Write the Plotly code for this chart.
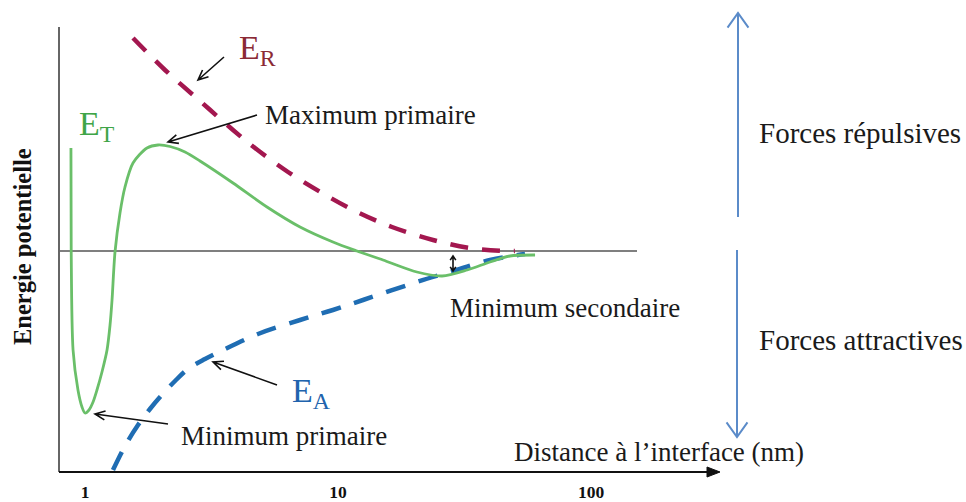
import math
import plotly.graph_objects as go

# ---------------- data ----------------
# Total energy E_T (solid green)
et_x = [0.880, 0.882, 0.897, 0.938, 0.973, 1.000, 1.037, 1.076, 1.115, 1.167,
        1.222, 1.256, 1.279, 1.314, 1.375, 1.439, 1.548, 1.758, 1.943, 2.168,
        2.485, 2.848, 3.846, 5.24, 7.08, 9.55, 11.89, 15.06, 20.5,
        25.8, 32.4, 39.9, 47.8, 60.1]
et_y = [10.3, 0.0, -9.9, -13.9, -15.6, -16.2, -15.9, -15.1, -13.9, -12.1,
        -9.9, -7.4, -4.9, -0.1, 3.8, 6.4, 8.8, 10.3, 10.6, 10.45,
        9.9, 9.0, 6.8, 4.4, 2.4, 0.9, 0.0, -0.9, -2.1,
        -2.5, -1.9, -1.1, -0.5, -0.4]

# Repulsive energy E_R (dashed crimson)
er_x = [1.548, 2.071, 2.848, 3.846, 4.698, 6.344, 8.646, 11.89, 16.35, 23.74, 33.24, 46.56, 50.0]
er_y = [21.3, 18.1, 15.0, 12.1, 10.3, 7.9, 5.8, 3.9, 2.4, 1.1, 0.3, 0.0, 0.0]

# Attractive energy E_A (dashed blue)
ea_x = [1.290, 1.439, 1.620, 1.806, 1.979, 2.269, 2.554, 2.981, 3.448, 4.829,
        7.08, 9.55, 12.56, 20.5, 27.71, 39.9, 54.86]
ea_y = [-21.9, -19.5, -17.4, -15.8, -14.6, -13.0, -11.8, -10.8, -10.0, -8.3,
        -6.9, -5.9, -4.9, -3.1, -2.1, -0.9, -0.3]

zero_x = [0.789, 152.0]
zero_y = [0.0, 0.0]

tick_vals = [1, 10, 100]
tick_text = ["1", "10", "100"]

# ---------------- layout geometry (pixels) ----------------
W, H = 966, 502
L, R, T, B = 59, 720, 27, 472
DEC = 253.0      # pixels per decade
X1 = 85.0        # pixel of x = 1
Y0 = 251.0       # pixel of y = 0
YS = 10.0        # pixels per y unit

xr = [(L - X1) / DEC, (R - X1) / DEC]
yr = [(Y0 - B) / YS, (Y0 - T) / YS]


def P(px, py):
    return (px - L) / (R - L), (B - py) / (B - T)


SERIF = "Liberation Serif"

fig = go.Figure()
fig.add_trace(go.Scatter(x=zero_x, y=zero_y, mode="lines",
                         line=dict(color="#555555", width=1.5), hoverinfo="skip"))
fig.add_trace(go.Scatter(x=er_x, y=er_y, mode="lines",
                         line=dict(color="#a3174f", width=4.5, dash="18px,14px", shape="spline"),
                         hoverinfo="skip"))
fig.add_trace(go.Scatter(x=ea_x, y=ea_y, mode="lines",
                         line=dict(color="#1f6db3", width=4.5, dash="20px,14px", shape="spline"),
                         hoverinfo="skip"))
fig.add_trace(go.Scatter(x=et_x, y=et_y, mode="lines",
                         line=dict(color="#6abf69", width=2.8, shape="spline", smoothing=0.8),
                         hoverinfo="skip"))

shapes = []


def arrow(x0, y0, x1, y1, color="#111111", width=1.6, head=11, spread=0.42, both=False):
    """open-V arrow from pixel (x0,y0) to pixel (x1,y1)"""
    def head_path(tx, ty, fx, fy):
        ang = math.atan2(ty - fy, tx - fx)
        a1 = ang + math.pi - spread
        a2 = ang + math.pi + spread
        p1 = P(tx + head * math.cos(a1), ty + head * math.sin(a1))
        pt = P(tx, ty)
        p2 = P(tx + head * math.cos(a2), ty + head * math.sin(a2))
        return f"M {p1[0]} {p1[1]} L {pt[0]} {pt[1]} L {p2[0]} {p2[1]}"
    a = P(x0, y0)
    b = P(x1, y1)
    path = f"M {a[0]} {a[1]} L {b[0]} {b[1]} " + head_path(x1, y1, x0, y0)
    if both:
        path += " " + head_path(x0, y0, x1, y1)
    shapes.append(dict(type="path", xref="paper", yref="paper", path=path,
                       line=dict(color=color, width=width), layer="above"))


# left axis
shapes.append(dict(type="line", xref="paper", yref="paper", x0=0, x1=0, y0=0, y1=P(0, T)[1],
                   line=dict(color="#666666", width=2)))
# bottom axis with arrow
a0 = P(L, B); a1 = P(R, B)
shapes.append(dict(type="line", xref="paper", yref="paper", x0=a0[0], x1=a1[0] - 0.004, y0=a0[1], y1=a1[1],
                   line=dict(color="#111111", width=2)))
tip = P(R, B); h1 = P(R - 13, B - 5); h2 = P(R - 13, B + 5)
shapes.append(dict(type="path", xref="paper", yref="paper",
                   path=f"M {h1[0]} {h1[1]} L {tip[0]} {tip[1]} L {h2[0]} {h2[1]} Z",
                   fillcolor="#111111", line=dict(color="#111111", width=1)))

# annotation arrows
arrow(224, 57, 198, 80)            # E_R
arrow(257, 115, 168, 142)          # Maximum primaire
arrow(277, 385, 213, 362)          # E_A
arrow(168, 424, 95, 414)           # Minimum primaire
arrow(453, 256, 453, 271, width=1.6, head=5, spread=0.6, both=True)  # secondary min
# right-side blue arrows
arrow(738, 217, 738, 13, color="#5b8bc9", width=2, head=18, spread=0.62)
arrow(737, 250, 737, 437, color="#5b8bc9", width=2, head=18, spread=0.62)

annotations = []


def text(t, px, py, size, color="#1a1a1a", xanchor="left", bold=False, angle=0):
    x, y = P(px, py)
    annotations.append(dict(text=f"<b>{t}</b>" if bold else t, x=x, y=y, xref="paper", yref="paper",
                            xanchor=xanchor, yanchor="middle", showarrow=False, textangle=angle,
                            font=dict(family=SERIF, size=size, color=color)))


text("E<sub>R</sub>", 257, 50, 34, color="#8b2a35", xanchor="center")
text("E<sub>T</sub>", 97, 126, 34, color="#3fa548", xanchor="center")
text("E<sub>A</sub>", 311, 393, 34, color="#2163ad", xanchor="center")
text("Maximum primaire", 263, 115, 27)
text("Minimum secondaire", 448, 308, 27)
text("Minimum primaire", 179, 436, 27)
text("Distance à l’interface\u00a0(nm)", 512, 452, 27)
text("Forces répulsives", 757, 133, 29)
text("Forces attractives", 757, 340, 29)
text("Energie potentielle", 22, 247, 24.5, color="#111111", xanchor="center", bold=True, angle=-90)

fig.update_layout(
    width=W, height=H,
    margin=dict(l=L, r=W - R, t=T, b=H - B, pad=0, autoexpand=False),
    paper_bgcolor="white", plot_bgcolor="white",
    showlegend=False,
    xaxis=dict(type="log", range=xr, tickvals=tick_vals,
               ticktext=[f"<b>{t}</b>" for t in tick_text],
               showgrid=False, zeroline=False, showline=False, ticks="",
               ticklabelstandoff=7, automargin=False,
               tickfont=dict(family=SERIF, size=17.5, color="#111111"), fixedrange=True),
    yaxis=dict(range=yr, showgrid=False, zeroline=False, showline=False, automargin=False,
               showticklabels=False, ticks="", fixedrange=True),
    shapes=shapes,
    annotations=annotations,
)

fig.write_html("out.html", config={"displayModeBar": False},
               post_script="document.body.style.margin='0';document.body.style.overflow='hidden';")
